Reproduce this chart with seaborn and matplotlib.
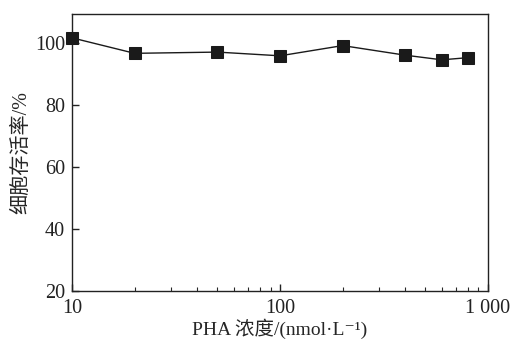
import numpy as np
import pandas as pd
import matplotlib
matplotlib.use("Agg")
import matplotlib.pyplot as plt
import matplotlib.ticker as mticker
import seaborn as sns

# PHA concentration (nmol/L) and cell viability (%)
concentration = [10, 20, 50, 100, 200, 400, 600, 800]
viability = [101.8, 96.8, 97.2, 96.0, 99.3, 96.2, 94.7, 95.4]

x_ticks = [10, 100, 1000]
x_tick_labels = ["10", "100", "1 000"]
y_ticks = [20, 40, 60, 80, 100]

data = pd.DataFrame({"conc": concentration, "viability": viability})

sns.set_style("ticks")
plt.rcParams["font.family"] = ["Liberation Serif", "Noto Sans CJK SC", "DejaVu Sans"]

fig = plt.figure(figsize=(5.11, 3.42), dpi=100)
ax = fig.add_axes([0.141, 0.149, 0.814, 0.810])

sns.lineplot(data=data, x="conc", y="viability", ax=ax, color="#1a1a1a",
             marker="s", markersize=8.5, markeredgecolor="#1a1a1a",
             linewidth=1.0, zorder=3, clip_on=False)

ax.set_xscale("log")
ax.set_xlim(10, 1000)
ax.set_ylim(20, 109.5)
ax.set_xticks(x_ticks)
ax.set_xticklabels(x_tick_labels)
ax.xaxis.set_minor_locator(mticker.LogLocator(base=10, subs=np.arange(2, 10)))
ax.xaxis.set_minor_formatter(mticker.NullFormatter())
ax.set_yticks(y_ticks)

for s in ax.spines.values():
    s.set_linewidth(1.0)
    s.set_color("#222222")

ax.tick_params(axis="both", which="major", direction="in", length=5, width=1.0,
               labelsize=14.5, colors="#222222")
ax.tick_params(axis="x", which="major", pad=6)
ax.tick_params(axis="y", which="major", pad=5)
ax.tick_params(axis="x", which="minor", direction="in", length=3, width=0.8)

ax.set_xlabel("PHA 浓度/(nmol·L⁻¹)", fontsize=14, labelpad=0)
ax.set_ylabel("细胞存活率/%", fontsize=14.5, labelpad=3)

fig.savefig("out.png", dpi=100)
